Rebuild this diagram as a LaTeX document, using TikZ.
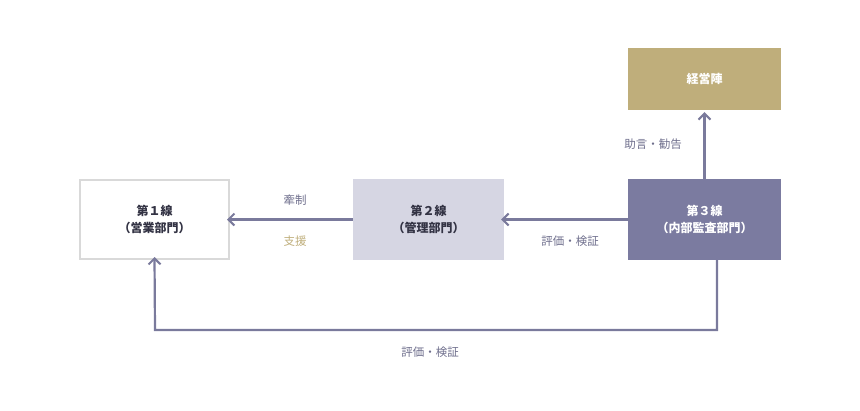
\documentclass[tikz,border=0pt]{standalone}
\usepackage{fontspec}
\setmainfont{Noto Sans CJK JP}
\usetikzlibrary{arrows.meta}
\definecolor{ln}{HTML}{7A7A9C}
\definecolor{gold}{HTML}{BFAE7B}
\definecolor{lav}{HTML}{D6D6E3}
\definecolor{dk}{HTML}{7B7BA0}
\definecolor{tx}{HTML}{333344}
\definecolor{lb}{HTML}{6E6E8C}
\begin{document}
\begin{tikzpicture}[x=1pt,y=-1pt,
 box/.style={minimum width=151pt,minimum height=81pt,inner sep=0pt,align=center,font=\bfseries\fontsize{12}{17}\selectfont},
 arr/.style={draw=ln,line width=2.2pt,-{Straight Barb[length=6pt,width=12pt,line width=2pt]}},
 lab/.style={font=\fontsize{11.5}{14}\selectfont,text=lb}]
\useasboundingbox (0,0) rectangle (860,410);
\node[box,draw=black!15,line width=2pt,fill=white,text=tx,minimum width=149pt,minimum height=79pt] (b1) at (154.5,219.5) {第１線\\（営業部門）};
\node[box,fill=lav,text=tx] (b2) at (428.5,219.5) {第２線\\（管理部門）};
\node[box,fill=dk,text=white,minimum width=153pt] (b3) at (704.5,219.5) {第３線\\（内部監査部門）};
\node[box,fill=gold,text=white,minimum width=153pt,minimum height=62pt] (top) at (704.5,79) {経営陣};
\coordinate (c1) at (717,330);
\coordinate (c2) at (155,330);
\draw[arr] (b2.west) -- ([xshift=-3pt]b1.east);
\draw[arr] (b3.west) -- ([xshift=-3pt]b2.east);
\draw[arr] (b3.north) -- ([yshift=-2pt]top.south);
\draw[arr] (b3.south -| c1) -- (c1) -- (c2) -- ([yshift=3pt]b1.south);
\node[lab] (l1) at (295,200) {牽制};
\node[lab,text=gold] (l2) at (295,241) {支援};
\node[lab] (l3) at (570,241) {評価・検証};
\node[lab] (l4) at (653,144) {助言・勧告};
\node[lab] (l5) at (430,352) {評価・検証};
\end{tikzpicture}
\end{document}
